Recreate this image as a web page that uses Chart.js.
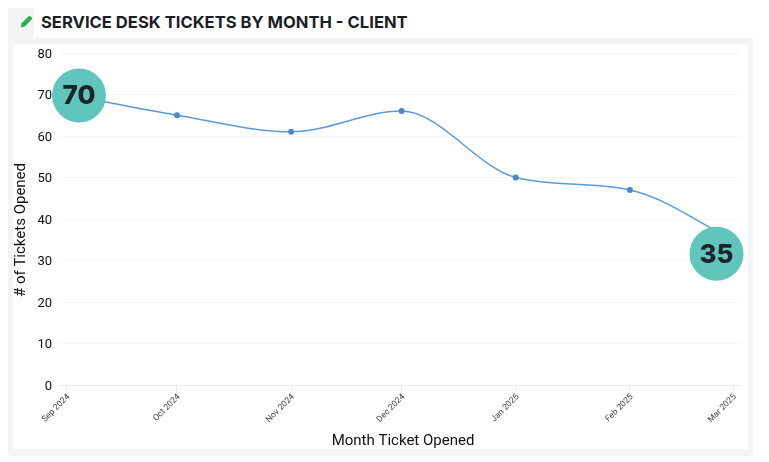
<!DOCTYPE html>
<html>
<head>
<meta charset="utf-8">
<title>Service Desk Tickets by Month</title>
<script src="https://cdn.jsdelivr.net/npm/chart.js@4"></script>
<style>
  html, body { margin: 0; padding: 0; background: #fff; }
  #page { position: relative; width: 769px; height: 462px; overflow: hidden; }
  .panel { position: absolute; left: 8px; top: 8px; width: 745px; height: 448px; background: #f3f4f6; }
  .blank { position: absolute; left: 423px; top: 0; width: 346px; height: 38px; background: #fff; }
  .inner { position: absolute; left: 13px; top: 44px; width: 735px; height: 405px; background: #fff; }
  .head {
    position: absolute; left: 34px; top: 8px; width: 389px; height: 30px; background: #fff;
    font: 700 16.6px/28px Inter, Roboto, sans-serif; color: #1c1e26; padding-left: 7px; box-sizing: border-box;
    white-space: nowrap;
  }
  .pencil { position: absolute; left: 20px; top: 15px; width: 13px; height: 13px; }
  canvas { position: absolute; left: 0; top: 0; }
</style>
</head>
<body>
<div id="page">
  <div class="panel"></div>
  <div class="blank"></div>
  <div class="inner"></div>
  <div class="head">SERVICE DESK TICKETS BY MONTH - CLIENT</div>
  <svg class="pencil" viewBox="0 0 13 13"><path d="M1 12.4 L1.4 8.2 L8.4 1.4 Q9.6 0.4 10.8 1.4 L11.8 2.4 Q12.6 3.5 11.7 4.6 L4.9 11.6 Z" fill="#2fae4e"/></svg>
  <canvas id="chart" width="769" height="462"></canvas>
</div>

<script>
  const categories = ['Sep 2024', 'Oct 2024', 'Nov 2024', 'Dec 2024', 'Jan 2025', 'Feb 2025', 'Mar 2025'];
  const monthStarts = ['2024-09-01', '2024-10-01', '2024-11-01', '2024-12-01', '2025-01-01', '2025-02-01', '2025-03-01'];
  const ticketsOpened = [70, 65, 61, 66, 50, 47, 35];
  const yTicks = [0, 10, 20, 30, 40, 50, 60, 70, 80];
  const xTitle = 'Month Ticket Opened';
  const yTitle = '# of Tickets Opened';

  // the months are not the same length, so the x axis is in days
  const DAY = 86400000;
  const dayOf = s => (Date.parse(s) - Date.parse(monthStarts[0])) / DAY;
  const xDays = monthStarts.map(dayOf);

  // round value callouts, offset in px from the point they belong to
  const badges = [
    { index: 0, dx: 12.5, dy: 1 },
    { index: 6, dx: -16.5, dy: 14 }
  ];

  const badgePlugin = {
    id: 'badges',
    afterDatasetsDraw(chart) {
      const c = chart.ctx;
      const pts = chart.getDatasetMeta(0).data;
      badges.forEach(b => {
        const x = pts[b.index].x + b.dx, y = pts[b.index].y + b.dy;
        c.save();
        c.beginPath();
        c.arc(x, y, 27, 0, Math.PI * 2);
        c.fillStyle = '#60c5bb';
        c.fill();
        c.fillStyle = '#1f2229';
        c.font = '800 26px Inter, Roboto, sans-serif';
        c.textAlign = 'center';
        c.textBaseline = 'middle';
        c.fillText(String(ticketsOpened[b.index]), x, y + 1);
        c.restore();
      });
    }
  };

  // the axis titles are not centred on the plot in the original, so they are placed by hand
  const axisTitlePlugin = {
    id: 'axisTitles',
    afterDraw(chart) {
      const c = chart.ctx;
      const a = chart.chartArea;
      c.save();
      c.font = '15px Roboto';
      c.fillStyle = '#111';
      c.textAlign = 'center';
      c.textBaseline = 'middle';
      c.fillText(xTitle, a.left + 343, a.bottom + 56);
      c.translate(a.left - 38.5, a.top + 177);
      c.rotate(-Math.PI / 2);
      c.fillText(yTitle, 0, 0);
      c.restore();
    }
  };

  new Chart(document.getElementById('chart'), {
    type: 'line',
    data: {
      datasets: [{
        data: ticketsOpened.map((v, i) => ({ x: xDays[i], y: v })),
        borderColor: '#5b9bd8',
        borderWidth: 1.5,
        backgroundColor: '#4a88cc',
        pointRadius: 3,
        pointBorderWidth: 0,
        cubicInterpolationMode: 'monotone',
        fill: false
      }]
    },
    options: {
      responsive: false,
      animation: false,
      layout: { padding: { left: 12, right: 29, top: 53, bottom: 13 } },
      plugins: { legend: { display: false }, tooltip: { enabled: false } },
      scales: {
        x: {
          type: 'linear',
          min: -1.77,
          max: 182.9,
          afterBuildTicks(s) { s.ticks = xDays.map(v => ({ value: v })); },
          afterFit(s) { s.height = 64; },
          border: { color: '#e6edf7' },
          grid: { drawOnChartArea: false, color: '#e6edf7', tickLength: 7 },
          ticks: {
            autoSkip: false,
            minRotation: 45,
            maxRotation: 45,
            padding: 0,
            labelOffset: 2,
            font: { family: 'Roboto', size: 8.5 },
            color: '#444',
            callback: (v) => categories[xDays.indexOf(v)]
          }
        },
        y: {
          min: 0,
          max: 80,
          afterBuildTicks(s) { s.ticks = yTicks.map(v => ({ value: v })); },
          afterFit(s) { s.width = 48; },
          border: { display: false },
          grid: { color: '#f6f6f6', tickLength: 0 },
          ticks: {
            padding: 8,
            labelOffset: 1.5,
            font: { family: 'Roboto', size: 13 },
            color: '#111'
          }
        }
      }
    },
    plugins: [badgePlugin, axisTitlePlugin]
  });
</script>
</body>
</html>
